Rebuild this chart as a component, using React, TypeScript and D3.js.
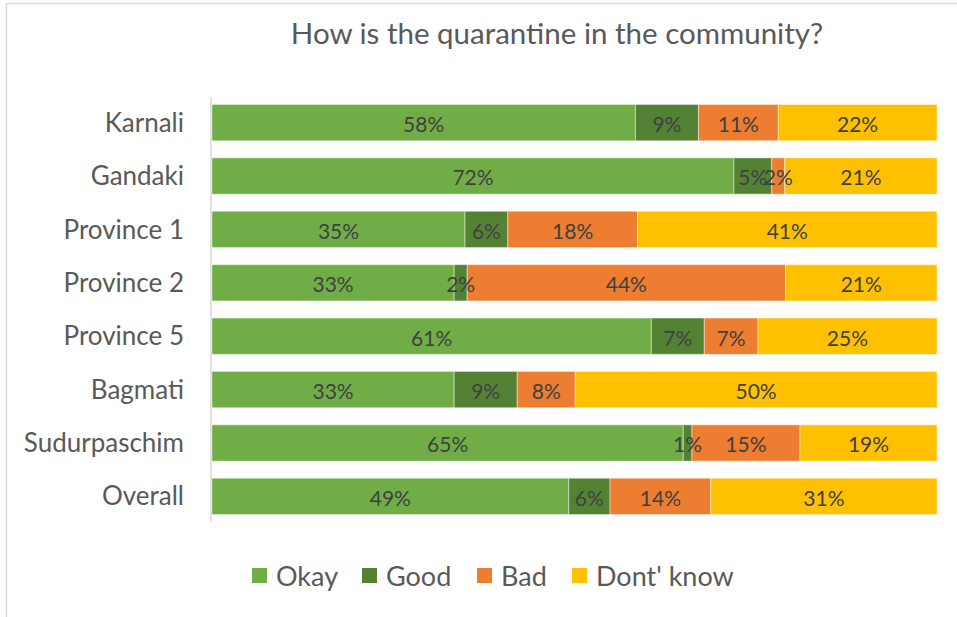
import React from "react";
import * as d3 from "d3";

const categories = ["Karnali", "Gandaki", "Province 1", "Province 2", "Province 5", "Bagmati", "Sudurpaschim", "Overall"];
const seriesNames = ["Okay", "Good", "Bad", "Dont' know"];
const okay = [58.4, 72.0, 34.9, 33.4, 60.6, 33.4, 65.0, 49.2];
const good = [8.7, 5.2, 5.9, 1.8, 7.3, 8.7, 1.2, 5.7];
const bad = [11.0, 1.8, 17.9, 43.9, 7.4, 8.0, 14.9, 13.9];
const dontKnow = [21.9, 21.0, 41.3, 20.9, 24.7, 49.9, 18.9, 31.2];
const colors = ["#70AD47", "#548235", "#ED7D31", "#FFC000"];
const title = "How is the quarantine in the community?";

const W = 957;
const H = 617;
const FONT = "Lato, 'Open Sans', sans-serif";

export default function App() {
  const rows = categories.map((c, i) => ({
    cat: c,
    Okay: okay[i],
    Good: good[i],
    Bad: bad[i],
    "Dont' know": dontKnow[i],
  }));
  const stack = d3.stack<any>().keys(seriesNames)(rows);
  const x = d3.scaleLinear().domain([0, 100]).range([212, 937]);
  const y = d3.scaleBand().domain(categories).range([97, 522]).paddingInner(0.32).paddingOuter(0.14);

  const legendX = [252, 362, 477, 572];

  return (
    <div style={{ position: "absolute", left: 0, top: 0 }}>
      <svg width={W} height={H} style={{ display: "block", fontFamily: FONT }}>
        <rect x={0} y={0} width={W} height={H} fill="#fff" />
        <rect x={6.5} y={3.5} width={W + 10} height={H + 10} fill="none" stroke="#d9d9d9" strokeWidth={1.5} />
        <text x={557} y={44} textAnchor="middle" fontSize={29.5} fill="#595959">{title}</text>
        {stack.map((s, si) => (
          <g key={si}>
            {s.map((d: any, i: number) => (
              <rect
                key={i}
                x={x(d[0])}
                y={y(categories[i])!}
                width={x(d[1]) - x(d[0])}
                height={y.bandwidth()}
                fill={colors[si]}
                stroke="#ffffff"
                strokeOpacity={0.45}
                strokeWidth={1}
              />
            ))}
          </g>
        ))}
        {stack.map((s, si) => (
          <g key={"l" + si}>
            {s.map((d: any, i: number) => (
              <text
                key={i}
                x={(x(d[0]) + x(d[1])) / 2}
                y={y(categories[i])! + y.bandwidth() / 2}
                dy="0.45em"
                textAnchor="middle"
                fontSize={21}
                fill="#404040"
              >
                {Math.round(d[1] - d[0]) + "%"}
              </text>
            ))}
          </g>
        ))}
        <line x1={211} x2={211} y1={97} y2={522} stroke="#d9d9d9" strokeWidth={1.5} />
        {categories.map((c) => (
          <text key={c} x={184} y={y(c)! + y.bandwidth() / 2} dy="0.35em" textAnchor="end" fontSize={26} fill="#595959">
            {c}
          </text>
        ))}
        {seriesNames.map((n, i) => (
          <g key={n}>
            <rect x={legendX[i]} y={568} width={15} height={15} fill={colors[i]} />
            <text x={legendX[i] + 24} y={586} fontSize={27} fill="#595959">{n}</text>
          </g>
        ))}
      </svg>
    </div>
  );
}
